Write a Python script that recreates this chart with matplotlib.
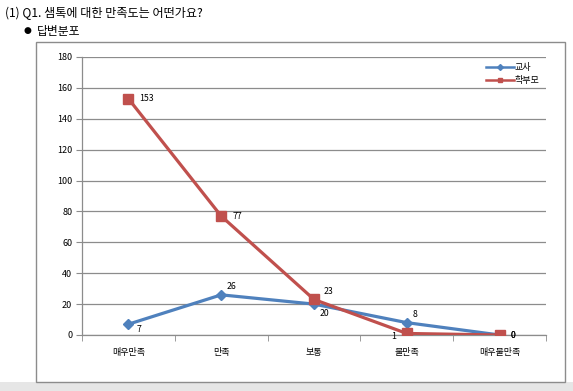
import matplotlib.pyplot as plt
from matplotlib.patches import Rectangle

plt.rcParams['font.family'] = ['Noto Sans CJK KR', 'DejaVu Sans']

categories = ["매우만족", "만족", "보통", "불만족", "매우불만족"]
teacher = [7, 26, 20, 8, 0]
parent = [153, 77, 23, 1, 0]
series_names = ["교사", "학부모"]

BLUE = "#4F81BD"
RED = "#C0504D"

W, H = 573, 391
fig = plt.figure(figsize=(W / 100, H / 100), dpi=100)

# outer chart box and gray band at bottom
fig.patches.append(Rectangle((0, 0), 1, 9 / H, transform=fig.transFigure,
                             facecolor="#e6e6e6", edgecolor="none", zorder=0))
fig.patches.append(Rectangle((36 / W, (H - 382) / H), (565 - 36) / W, (382 - 42) / H,
                             transform=fig.transFigure, facecolor="white",
                             edgecolor="#8c8c8c", linewidth=1, zorder=1))

fig.text(5 / W, 1 - 13 / H, "(1) Q1. 샘톡에 대한 만족도는 어떤가요?", fontsize=8.7,
         va="center", ha="left")
fig.text(24 / W, 1 - 31 / H, "●", fontsize=6.5, va="center", ha="left",
         family=["DejaVu Sans"])
fig.text(37 / W, 1 - 31 / H, "답변분포", fontsize=8.5, va="center", ha="left")

ax = fig.add_axes([82 / W, (H - 335) / H, 464 / W, 278 / H])
ax.set_zorder(2)
ax.patch.set_alpha(0)

x = list(range(len(categories)))
ax.plot(x, teacher, color=BLUE, linewidth=2.3, marker="D", markersize=5,
        label=series_names[0], zorder=3)
ax.plot(x, parent, color=RED, linewidth=2.3, marker="s", markersize=6.5,
        label=series_names[1], zorder=4)

ax.set_xlim(-0.5, len(categories) - 0.5)
ax.set_ylim(0, 180)
ax.set_yticks(range(0, 181, 20))
ax.set_xticks(x)
ax.set_xticklabels(categories)
ax.set_xticks([i + 0.5 for i in range(-1, len(categories))], minor=True)
ax.tick_params(axis="x", which="major", length=0, pad=9, labelsize=6.5)
ax.tick_params(axis="x", which="minor", length=4, color="#8c8c8c")
ax.tick_params(axis="y", length=4, color="#8c8c8c", labelsize=6.5, pad=3)
ax.yaxis.grid(True, color="#8c8c8c", linewidth=0.9)
ax.set_axisbelow(True)
for side in ["top", "right"]:
    ax.spines[side].set_visible(False)
for side in ["left", "bottom"]:
    ax.spines[side].set_color("#8c8c8c")
    ax.spines[side].set_linewidth(0.9)

# data labels
t_off = [(6, -4), (4, 6), (4, -7), (4, 6), (8, 0)]
p_off = [(8, 0), (8, 0), (7, 6), (-8, -2), (8, 0)]
for i, v in enumerate(teacher):
    ax.annotate(str(v), (i, v), xytext=t_off[i], textcoords="offset points",
                fontsize=6.3, ha="left" if t_off[i][0] > 0 else "right", va="center")
for i, v in enumerate(parent):
    ax.annotate(str(v), (i, v), xytext=p_off[i], textcoords="offset points",
                fontsize=6.3, ha="left" if p_off[i][0] > 0 else "right", va="center")

leg = ax.legend(loc="upper right", bbox_to_anchor=(0.995, 0.995), frameon=False,
                fontsize=6.5, handlelength=3.0, handletextpad=0.1, labelspacing=0.5,
                borderpad=0)
for h in leg.get_lines():
    h.set_markersize(3)
    h.set_linewidth(1.8)

fig.savefig("out.png", dpi=100)
